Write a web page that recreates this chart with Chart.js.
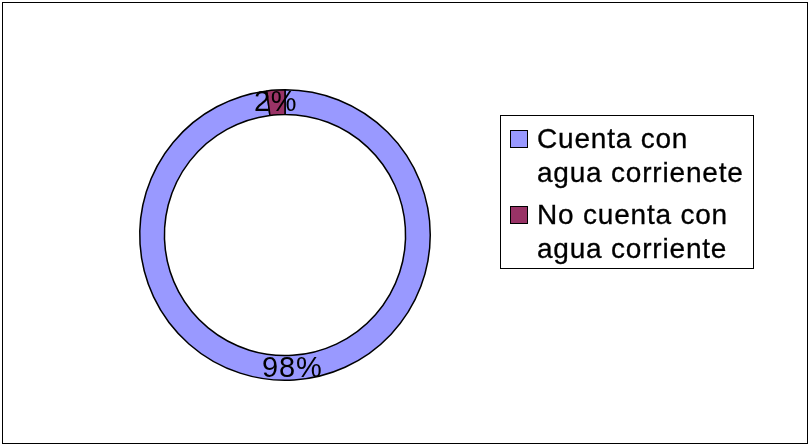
<!DOCTYPE html>
<html lang="es">
<head>
  <meta charset="UTF-8">
  <title>Agua corriente</title>
  <script src="https://cdn.jsdelivr.net/npm/chart.js"></script>
  <style>
    body {
      margin: 0;
      width: 811px;
      height: 444px;
      background: #fff;
      font-family: 'Liberation Sans', Arial, sans-serif;
      overflow: hidden;
    }
    #marco {
      position: absolute;
      left: 2px;
      top: 2px;
      width: 804px;
      height: 440px;
      border: 1px solid #000;
    }
    #grafico {
      position: absolute;
      left: 0;
      top: 0;
    }
    #leyenda {
      position: absolute;
      left: 500px;
      top: 115px;
      width: 252px;
      height: 152px;
      border: 1px solid #000;
      background: #fff;
    }
    .item {
      position: relative;
      padding-left: 36px;
      font-size: 28px;
      line-height: 34px;
      letter-spacing: 0.8px;
      color: #000;
      width: 218px;
      -webkit-text-stroke: 0.3px #000;
    }
    .item .caja {
      position: absolute;
      left: 9px;
      top: 8px;
      width: 16px;
      height: 16px;
      border: 1px solid #000;
    }
  </style>
</head>
<body>
  <div id="marco"></div>
  <canvas id="grafico" width="811" height="444"></canvas>
  <div id="leyenda"></div>

  <script>
    const categorias = ['Cuenta con agua corrienete', 'No cuenta con agua corriente'];
    const valores = [98, 2];
    const colores = ['#9999ff', '#993366'];

    // etiquetas de porcentaje en el centro de cada sector
    const etiquetas = {
      id: 'etiquetas',
      afterDatasetsDraw(chart) {
        const ctx = chart.ctx;
        const meta = chart.getDatasetMeta(0);
        ctx.save();
        ctx.font = '29px "Liberation Sans", Arial, sans-serif';
        ctx.letterSpacing = '0.8px';
        ctx.fillStyle = '#000';
        ctx.textAlign = 'center';
        ctx.textBaseline = 'middle';
        meta.data.forEach((arc, i) => {
          const p = arc.tooltipPosition();
          ctx.fillText(valores[i] + '%', p.x - 1, p.y + 1);
        });
        ctx.restore();
      }
    };

    new Chart(document.getElementById('grafico'), {
      type: 'doughnut',
      data: {
        labels: categorias,
        datasets: [{
          data: valores,
          backgroundColor: colores,
          borderColor: '#000',
          borderWidth: 1.5
        }]
      },
      options: {
        responsive: false,
        animation: false,
        cutout: '83%',
        layout: { padding: { left: 139, top: 89, right: 380, bottom: 63 } },
        plugins: {
          legend: { display: false },
          tooltip: { enabled: false }
        }
      },
      plugins: [etiquetas]
    });

    const leyenda = document.getElementById('leyenda');
    categorias.forEach((c, i) => {
      const d = document.createElement('div');
      d.className = 'item';
      d.style.marginTop = i === 0 ? '6px' : '8px';
      d.innerHTML = '<span class="caja" style="background:' + colores[i] + '"></span>' + c;
      leyenda.appendChild(d);
    });
  </script>
</body>
</html>
